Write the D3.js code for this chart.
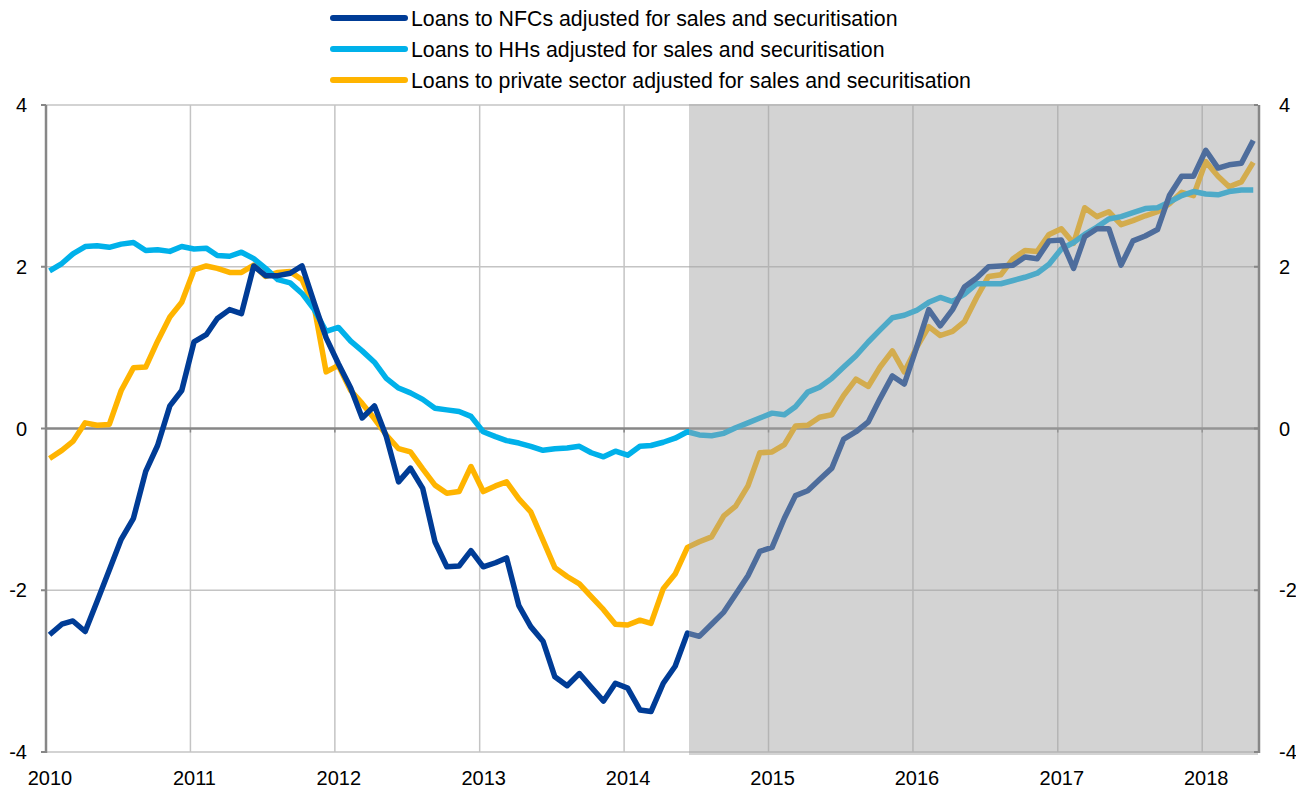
<!DOCTYPE html>
<html>
<head>
<meta charset="utf-8">
<script src="https://cdn.jsdelivr.net/npm/d3@7"></script>
<style>
  body { margin: 0; background: #fff; }
  text { font-family: "Liberation Sans", Arial, sans-serif; fill: #000; }
</style>
</head>
<body>
<div id="chart"></div>
<script>
// monthly observations, Jan 2010 - May 2018
const months = d3.timeMonth.range(new Date(2010, 0, 1), new Date(2018, 5, 1));

const nfcValues = [
  -2.55, -2.42, -2.38, -2.51, -2.14, -1.75, -1.37, -1.11, -0.53, -0.21,
  0.28, 0.47, 1.07, 1.16, 1.36, 1.47, 1.42, 2.01, 1.89, 1.89,
  1.92, 2.01, 1.55, 1.12, 0.8, 0.5, 0.13, 0.28, -0.1, -0.66,
  -0.49, -0.74, -1.4, -1.71, -1.7, -1.51, -1.71, -1.66, -1.6, -2.19,
  -2.45, -2.63, -3.07, -3.18, -3.03, -3.2, -3.37, -3.15, -3.21, -3.48,
  -3.5, -3.15, -2.94, -2.53, -2.57, -2.42, -2.27, -2.05, -1.82, -1.52,
  -1.47, -1.11, -0.83, -0.77, -0.63, -0.49, -0.13, -0.04, 0.08, 0.37,
  0.65, 0.55, 1.0, 1.47, 1.27, 1.47, 1.75, 1.86, 2.0, 2.01,
  2.02, 2.12, 2.1, 2.32, 2.33, 1.98, 2.37, 2.47, 2.47, 2.02,
  2.32, 2.38, 2.46, 2.88, 3.12, 3.12, 3.44, 3.22, 3.26, 3.28,
  3.56
];

const hhValues = [
  1.95, 2.04, 2.16, 2.25, 2.26, 2.24, 2.28, 2.3, 2.2, 2.21,
  2.19, 2.25, 2.22, 2.23, 2.14, 2.13, 2.18, 2.1, 1.98, 1.84,
  1.8, 1.67, 1.47, 1.2, 1.25, 1.08, 0.96, 0.82, 0.62, 0.5,
  0.44, 0.36, 0.25, 0.23, 0.21, 0.15, -0.04, -0.1, -0.15, -0.18,
  -0.22, -0.27, -0.25, -0.24, -0.22, -0.3, -0.35, -0.28, -0.33, -0.22,
  -0.21, -0.17, -0.12, -0.04, -0.08, -0.09, -0.06, 0.01, 0.07, 0.13,
  0.19, 0.17, 0.27, 0.45, 0.51, 0.62, 0.76, 0.9, 1.07, 1.22,
  1.37, 1.4, 1.46, 1.56, 1.62, 1.57, 1.66, 1.79, 1.79, 1.79,
  1.83, 1.87, 1.92, 2.03, 2.22, 2.3, 2.4, 2.49, 2.59, 2.62,
  2.67, 2.72, 2.73, 2.8, 2.88, 2.93, 2.9, 2.89, 2.93, 2.95,
  2.95
];

const privateValues = [
  -0.37, -0.27, -0.16, 0.07, 0.04, 0.05, 0.47, 0.75, 0.76, 1.08,
  1.38, 1.56, 1.96, 2.01, 1.98, 1.93, 1.93, 2.02, 1.88, 1.93,
  1.94, 1.84, 1.5, 0.7, 0.78, 0.47, 0.31, 0.12, -0.08, -0.25,
  -0.29, -0.5, -0.7, -0.8, -0.78, -0.47, -0.78, -0.71, -0.66, -0.87,
  -1.03, -1.38, -1.72, -1.83, -1.92, -2.08, -2.24, -2.42, -2.43, -2.37,
  -2.41, -1.98, -1.8, -1.47, -1.4, -1.34, -1.08, -0.96, -0.71, -0.3,
  -0.29, -0.2, 0.03, 0.04, 0.14, 0.17, 0.41, 0.61, 0.52, 0.76,
  0.96, 0.7, 1.0, 1.26, 1.15, 1.2, 1.32, 1.62, 1.88, 1.9,
  2.1, 2.2, 2.19, 2.4, 2.47, 2.29, 2.73, 2.62, 2.68, 2.52,
  2.57, 2.63, 2.68, 2.78, 2.92, 2.88, 3.3, 3.12, 2.99, 3.05,
  3.29
];

const seriesNames = [
  "Loans to NFCs adjusted for sales and securitisation",
  "Loans to HHs adjusted for sales and securitisation",
  "Loans to private sector adjusted for sales and securitisation"
];
const seriesColors = ["#003c96", "#00b1ea", "#ffb400"];

const yTicks = [-4, -2, 0, 2, 4];
const yearTicks = [2010, 2011, 2012, 2013, 2014, 2015, 2016, 2017, 2018];
const shadeStart = new Date(2014, 5, 14);

const width = 1296, height = 793;
const margin = {top: 105, right: 38, bottom: 41, left: 46};

const svg = d3.select("#chart").append("svg")
  .attr("width", width)
  .attr("height", height);

const x = d3.scaleTime()
  .domain([new Date(2010, 0, 1), new Date(2018, 4, 22)])
  .range([margin.left, width - margin.right]);

const y = d3.scaleLinear()
  .domain([-4, 4])
  .range([height - margin.bottom, margin.top]);

const xPos = d => x(d3.timeDay.offset(d, 9));

// gridlines
svg.append("g")
  .selectAll("line")
  .data(yTicks.filter(t => t !== 0))
  .join("line")
  .attr("x1", x.range()[0]).attr("x2", x.range()[1])
  .attr("y1", d => y(d)).attr("y2", d => y(d))
  .attr("stroke", "#c4c4c4").attr("stroke-width", 1.5);

svg.append("g")
  .selectAll("line")
  .data(yearTicks.slice(1))
  .join("line")
  .attr("x1", d => x(new Date(d, 0, 1))).attr("x2", d => x(new Date(d, 0, 1)))
  .attr("y1", y(4)).attr("y2", y(-4))
  .attr("stroke", "#c4c4c4").attr("stroke-width", 1.5);

// zero line with small year ticks
svg.append("line")
  .attr("x1", x.range()[0]).attr("x2", x.range()[1])
  .attr("y1", y(0)).attr("y2", y(0))
  .attr("stroke", "#878787").attr("stroke-width", 2.5);

svg.append("g")
  .selectAll("line")
  .data(yearTicks.slice(1))
  .join("line")
  .attr("x1", d => x(new Date(d, 0, 1))).attr("x2", d => x(new Date(d, 0, 1)))
  .attr("y1", y(0)).attr("y2", y(0) + 4)
  .attr("stroke", "#878787").attr("stroke-width", 1.5);

// series
const allSeries = [nfcValues, hhValues, privateValues];
const line = d3.line()
  .x((d, i) => xPos(months[i]))
  .y(d => y(d));

// private under HH under NFC
const drawOrder = [2, 1, 0];
svg.append("g")
  .selectAll("path")
  .data(drawOrder)
  .join("path")
  .attr("d", k => line(allSeries[k]))
  .attr("fill", "none")
  .attr("stroke", k => seriesColors[k])
  .attr("stroke-width", 5.5)
  .attr("stroke-linejoin", "round");

// grey shaded period, semi transparent over the lines
svg.append("rect")
  .attr("x", x(shadeStart))
  .attr("y", y(4) - 1)
  .attr("width", x.range()[1] - x(shadeStart))
  .attr("height", y(-4) - y(4) + 4)
  .attr("fill", "rgb(164,164,164)")
  .attr("fill-opacity", 0.48);

// axis lines
svg.append("line")
  .attr("x1", x.range()[0]).attr("x2", x.range()[0])
  .attr("y1", y(4)).attr("y2", y(-4) + 1)
  .attr("stroke", "#878787").attr("stroke-width", 2.5);

svg.append("line")
  .attr("x1", x.range()[1] + 1).attr("x2", x.range()[1] + 1)
  .attr("y1", y(4)).attr("y2", y(-4) + 1)
  .attr("stroke", "#878787").attr("stroke-width", 2.5);

svg.append("g")
  .selectAll("line")
  .data(yTicks)
  .join("line")
  .attr("x1", x.range()[0] - 5).attr("x2", x.range()[0])
  .attr("y1", d => y(d)).attr("y2", d => y(d))
  .attr("stroke", "#878787").attr("stroke-width", 2);

svg.append("g")
  .selectAll("line")
  .data(yTicks)
  .join("line")
  .attr("x1", x.range()[1] - 4).attr("x2", x.range()[1])
  .attr("y1", d => y(d)).attr("y2", d => y(d))
  .attr("stroke", "#878787").attr("stroke-width", 2);

// tick labels
svg.append("g")
  .selectAll("text")
  .data(yTicks)
  .join("text")
  .attr("x", 27)
  .attr("y", d => y(d) + 7)
  .attr("text-anchor", "end")
  .style("font-size", "20px")
  .text(d => d);

svg.append("g")
  .selectAll("text")
  .data(yTicks)
  .join("text")
  .attr("x", 1279)
  .attr("y", d => y(d) + 7)
  .style("font-size", "20px")
  .text(d => d);

svg.append("g")
  .selectAll("text")
  .data(yearTicks)
  .join("text")
  .attr("x", d => x(new Date(d, 0, 1)) + 4)
  .attr("y", 785)
  .attr("text-anchor", "middle")
  .style("font-size", "20px")
  .text(d => d);

// legend
const legend = svg.append("g")
  .selectAll("g")
  .data(seriesNames)
  .join("g")
  .attr("transform", (d, i) => "translate(333," + (18 + i * 31) + ")");

legend.append("line")
  .attr("x1", 0).attr("x2", 72)
  .attr("stroke", (d, i) => seriesColors[i])
  .attr("stroke-width", 6)
  .attr("stroke-linecap", "round");

legend.append("text")
  .attr("x", 78)
  .attr("y", 7.5)
  .style("font-size", "21.3px")
  .text(d => d);
</script>
</body>
</html>
